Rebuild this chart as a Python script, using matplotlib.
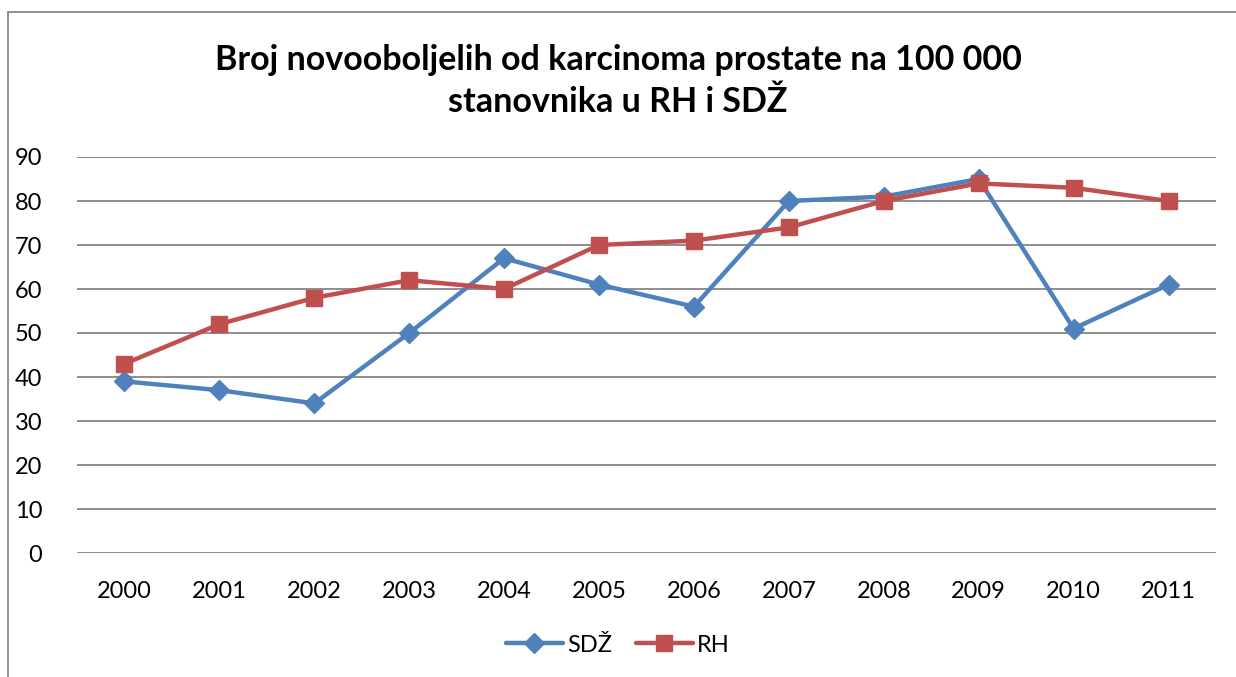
import matplotlib
matplotlib.use("Agg")
from matplotlib import pyplot as plt
from matplotlib.patches import Rectangle

years = ["2000", "2001", "2002", "2003", "2004", "2005", "2006", "2007", "2008", "2009", "2010", "2011"]
sdz = [39, 37, 34, 50, 67, 61, 56, 80, 81, 85, 51, 61]
rh = [43, 52, 58, 62, 60, 70, 71, 74, 80, 84, 83, 80]

plt.rcParams['font.family'] = ['Lato', 'DejaVu Sans']

fig = plt.figure(figsize=(12.36, 6.77), dpi=100)
ax = fig.add_axes([77/1236, 1-553/677, (1216-77)/1236, (553-157)/677])

# outer chart border (partially cut off like the reference)
fig.patches.append(Rectangle((8/1236, -0.1), 1.2, 1-12/677+0.1, transform=fig.transFigure,
                             fill=False, edgecolor="#888888", linewidth=1.3))

x = list(range(len(years)))
ax.plot(x, sdz, color="#4F81BD", linewidth=3.2, marker="D", markersize=10,
        solid_capstyle="round", label="SDŽ")
ax.plot(x, rh, color="#C0504D", linewidth=3.2, marker="s", markersize=12,
        solid_capstyle="round", label="RH")

ax.set_xlim(-0.5, 11.5)
ax.set_ylim(0, 90)
ax.set_yticks(range(0, 91, 10))
ax.set_xticks(x)
ax.set_xticklabels(years)
ax.grid(axis="y", color="#868686", linewidth=1.3)
ax.set_axisbelow(True)
for s in ax.spines.values():
    s.set_visible(False)
ax.tick_params(length=0, labelsize=17, colors="black")
ax.tick_params(axis="y", pad=25)
ax.tick_params(axis="x", pad=20)

fig.text(0.5, 1-60/677, "Broj novooboljelih od karcinoma prostate na 100 000",
         ha="center", va="center", fontsize=24.5, fontweight="bold")
fig.text(0.5, 1-102/677, "stanovnika u RH i SDŽ",
         ha="center", va="center", fontsize=24.5, fontweight="bold")

fig.legend(loc="center", bbox_to_anchor=(0.5, 1-645/677), ncol=2, frameon=False,
           fontsize=17, handlelength=2.4, handletextpad=0.2, columnspacing=1.0)

plt.savefig("out.png", dpi=100)
plt.close()
